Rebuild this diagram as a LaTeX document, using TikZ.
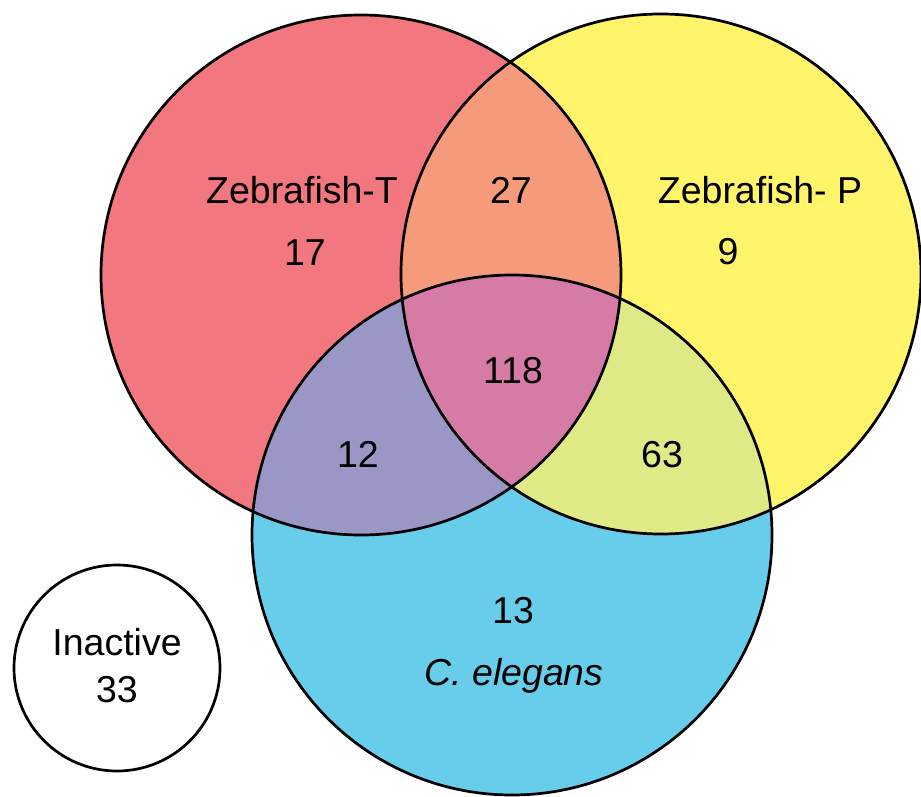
\documentclass[tikz,border=0pt]{standalone}
\usepackage{fontspec}
\setmainfont{Liberation Sans}
\usepackage{tikz}
\usetikzlibrary{positioning}
\definecolor{zfTColor}{RGB}{242, 119, 126}
\definecolor{zfPColor}{RGB}{255, 244, 106}
\definecolor{ceColor}{RGB}{104, 205, 234}
\definecolor{tpColor}{RGB}{245, 155, 124}
\definecolor{tcColor}{RGB}{154, 151, 199}
\definecolor{pcColor}{RGB}{223, 234, 134}
\definecolor{allColor}{RGB}{213, 123, 166}

\begin{document}
\begin{tikzpicture}[x=1pt, y=-1pt,
    venn/.style={line width=2.7pt},
    lbl/.style={font=\fontsize{37.5}{45}\selectfont, inner sep=0pt, anchor=base}]
    \useasboundingbox (0,0) rectangle (921,797);

    % Set centres
    \coordinate (cT) at (361,275);
    \coordinate (cP) at (661,274);
    \coordinate (cC) at (512,535);
    \def\rad{260pt}

    % Single sets
    \fill[zfTColor] (cT) circle[radius=\rad];
    \fill[zfPColor] (cP) circle[radius=\rad];
    \fill[ceColor] (cC) circle[radius=\rad];

    % Pairwise overlaps
    \begin{scope}
        \clip (cT) circle[radius=\rad];
        \fill[tpColor] (cP) circle[radius=\rad];
        \fill[tcColor] (cC) circle[radius=\rad];
        \clip (cP) circle[radius=\rad];
        \fill[allColor] (cC) circle[radius=\rad];
    \end{scope}
    \begin{scope}
        \clip (cP) circle[radius=\rad];
        \clip (cC) circle[radius=\rad];
        \fill[pcColor] (cC) circle[radius=\rad];
        \clip (cT) circle[radius=\rad];
        \fill[allColor] (cC) circle[radius=\rad];
    \end{scope}

    % Outlines
    \draw[venn] (cT) circle[radius=\rad];
    \draw[venn] (cP) circle[radius=\rad];
    \draw[venn] (cC) circle[radius=\rad];
    \draw[venn] (117,668) circle[radius=103pt];

    % Labels
    \node[lbl] (nameT) at (302,203) {Zebrafish-T};
    \node[lbl] (onlyT) at (305,265) {17};
    \node[lbl] (nameP) at (760,203) {Zebrafish- P};
    \node[lbl] (onlyP) at (728,264) {9};
    \node[lbl] (bothTP) at (511,203) {27};
    \node[lbl] (all) at (513,383) {118};
    \node[lbl] (bothTC) at (358,467) {12};
    \node[lbl] (bothPC) at (662,467) {63};
    \node[lbl] (onlyC) at (513,623) {13};
    \node[lbl] (nameC) at (514,685) {\itshape C. elegans};
    \node[lbl] (inact) at (117,655) {Inactive};
    \node[lbl] (inactN) at (117,702) {33};

\end{tikzpicture}
\end{document}
